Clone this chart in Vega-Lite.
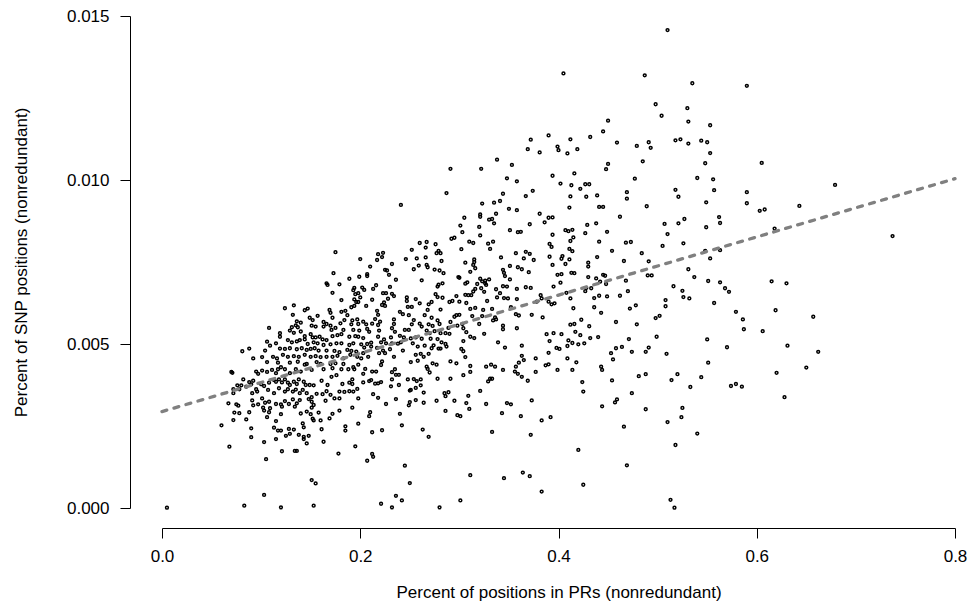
{
"$schema":"https://vega.github.io/schema/vega-lite/v6.json",
"width":793,"height":492,
"autosize":{"type":"none"},
"padding":{"left":162,"top":16,"right":17,"bottom":104},
"background":"white",
"config":{"view":{"stroke":null},"font":"Liberation Sans"},
"layer":[
{"data":{"values":[
{"pr":0.372,"snp":0.01123},{"pr":0.390,"snp":0.01136},{"pr":0.369,"snp":0.01094},{"pr":0.381,"snp":0.01084},{"pr":0.399,"snp":0.01102},{"pr":0.400,"snp":0.01091},{"pr":0.338,"snp":0.01062},{"pr":0.353,"snp":0.01046},{"pr":0.291,"snp":0.01034},{"pr":0.322,"snp":0.01034},{"pr":0.394,"snp":0.01013},{"pr":0.348,"snp":0.01005},
{"pr":0.510,"snp":0.01457},{"pr":0.405,"snp":0.01325},{"pr":0.487,"snp":0.01319},{"pr":0.535,"snp":0.01295},{"pr":0.590,"snp":0.01287},{"pr":0.498,"snp":0.01231},{"pr":0.530,"snp":0.01219},{"pr":0.504,"snp":0.01196},{"pr":0.450,"snp":0.01181},{"pr":0.531,"snp":0.01178},{"pr":0.553,"snp":0.01167},{"pr":0.445,"snp":0.01148},{"pr":0.432,"snp":0.01131},{"pr":0.412,"snp":0.01124},{"pr":0.459,"snp":0.01114},{"pr":0.479,"snp":0.01104},{"pr":0.491,"snp":0.01115},{"pr":0.493,"snp":0.01098},{"pr":0.518,"snp":0.01121},{"pr":0.523,"snp":0.01124},{"pr":0.531,"snp":0.01111},{"pr":0.544,"snp":0.0112},{"pr":0.550,"snp":0.01115},{"pr":0.553,"snp":0.01082},{"pr":0.409,"snp":0.01081},{"pr":0.419,"snp":0.01094},{"pr":0.450,"snp":0.01049},{"pr":0.448,"snp":0.01033},{"pr":0.485,"snp":0.01057},{"pr":0.548,"snp":0.01051},{"pr":0.416,"snp":0.0102},{"pr":0.477,"snp":0.01004},{"pr":0.540,"snp":0.01006},{"pr":0.556,"snp":0.01002},
{"pr":0.605,"snp":0.01052},
{"pr":0.175,"snp":0.0078},{"pr":0.200,"snp":0.00759},{"pr":0.173,"snp":0.00716},{"pr":0.189,"snp":0.00699},{"pr":0.199,"snp":0.00705},{"pr":0.166,"snp":0.00685},{"pr":0.167,"snp":0.0068},{"pr":0.179,"snp":0.00682},{"pr":0.172,"snp":0.00656},{"pr":0.194,"snp":0.00671},{"pr":0.193,"snp":0.00664},{"pr":0.195,"snp":0.00652},{"pr":0.198,"snp":0.00655},{"pr":0.181,"snp":0.00634},{"pr":0.196,"snp":0.00628},{"pr":0.194,"snp":0.00616},{"pr":0.191,"snp":0.00612},{"pr":0.198,"snp":0.00628},{"pr":0.124,"snp":0.00609},{"pr":0.133,"snp":0.00618},{"pr":0.144,"snp":0.00603},{"pr":0.147,"snp":0.00608},{"pr":0.169,"snp":0.00604},{"pr":0.170,"snp":0.00595},{"pr":0.181,"snp":0.00598},{"pr":0.185,"snp":0.00601},{"pr":0.187,"snp":0.00588},{"pr":0.132,"snp":0.00589},{"pr":0.157,"snp":0.00586},{"pr":0.172,"snp":0.0058},{"pr":0.184,"snp":0.00573},{"pr":0.197,"snp":0.00575},{"pr":0.149,"snp":0.0058},{"pr":0.152,"snp":0.00573},{"pr":0.136,"snp":0.00569},{"pr":0.140,"snp":0.00565},{"pr":0.163,"snp":0.00567},{"pr":0.166,"snp":0.00561},{"pr":0.170,"snp":0.00556},{"pr":0.180,"snp":0.00563},{"pr":0.191,"snp":0.0056},{"pr":0.198,"snp":0.00561},{"pr":0.135,"snp":0.00557},{"pr":0.137,"snp":0.00551},{"pr":0.131,"snp":0.00551},{"pr":0.151,"snp":0.00556},{"pr":0.155,"snp":0.00553},{"pr":0.163,"snp":0.00553},{"pr":0.108,"snp":0.00549},{"pr":0.129,"snp":0.00541},{"pr":0.133,"snp":0.00534},{"pr":0.140,"snp":0.00538},{"pr":0.171,"snp":0.00543},{"pr":0.175,"snp":0.00549},{"pr":0.183,"snp":0.00543},{"pr":0.193,"snp":0.00543},{"pr":0.119,"snp":0.00533},{"pr":0.119,"snp":0.00522},{"pr":0.144,"snp":0.00524},{"pr":0.150,"snp":0.0053},{"pr":0.152,"snp":0.0052},{"pr":0.155,"snp":0.0052},{"pr":0.159,"snp":0.00522},{"pr":0.162,"snp":0.00514},{"pr":0.166,"snp":0.00512},{"pr":0.172,"snp":0.00524},{"pr":0.177,"snp":0.00527},{"pr":0.181,"snp":0.0053},{"pr":0.189,"snp":0.00522},{"pr":0.195,"snp":0.00524},{"pr":0.198,"snp":0.00522},{"pr":0.106,"snp":0.00507},{"pr":0.115,"snp":0.00502},{"pr":0.127,"snp":0.00512},{"pr":0.131,"snp":0.00505},{"pr":0.136,"snp":0.00508},{"pr":0.139,"snp":0.00512},{"pr":0.144,"snp":0.00514},{"pr":0.147,"snp":0.005},{"pr":0.153,"snp":0.00505},{"pr":0.157,"snp":0.00502},{"pr":0.163,"snp":0.00497},{"pr":0.170,"snp":0.00499},{"pr":0.176,"snp":0.00502},{"pr":0.181,"snp":0.00502},{"pr":0.189,"snp":0.00497},{"pr":0.193,"snp":0.00502},{"pr":0.109,"snp":0.00495},{"pr":0.088,"snp":0.00486},{"pr":0.081,"snp":0.00478},{"pr":0.104,"snp":0.0048},{"pr":0.119,"snp":0.00486},{"pr":0.124,"snp":0.00485},{"pr":0.129,"snp":0.00487},{"pr":0.136,"snp":0.00484},{"pr":0.141,"snp":0.00487},{"pr":0.146,"snp":0.00482},{"pr":0.150,"snp":0.00485},{"pr":0.154,"snp":0.00487},{"pr":0.158,"snp":0.0048},{"pr":0.166,"snp":0.0048},{"pr":0.174,"snp":0.00479},{"pr":0.179,"snp":0.00475},{"pr":0.187,"snp":0.00482},{"pr":0.191,"snp":0.00479},{"pr":0.196,"snp":0.00477},{"pr":0.092,"snp":0.00456},{"pr":0.101,"snp":0.0046},{"pr":0.112,"snp":0.00461},{"pr":0.116,"snp":0.00456},{"pr":0.122,"snp":0.00467},{"pr":0.127,"snp":0.00461},{"pr":0.133,"snp":0.00463},{"pr":0.138,"snp":0.00461},{"pr":0.144,"snp":0.00467},{"pr":0.150,"snp":0.00461},{"pr":0.155,"snp":0.00463},{"pr":0.160,"snp":0.0046},{"pr":0.166,"snp":0.00461},{"pr":0.172,"snp":0.00461},{"pr":0.177,"snp":0.00464},{"pr":0.183,"snp":0.00456},{"pr":0.190,"snp":0.00467},{"pr":0.197,"snp":0.00461},
{"pr":0.358,"snp":0.00996},{"pr":0.287,"snp":0.0096},{"pr":0.344,"snp":0.00958},{"pr":0.374,"snp":0.00967},{"pr":0.367,"snp":0.00951},{"pr":0.241,"snp":0.00924},{"pr":0.323,"snp":0.00928},{"pr":0.335,"snp":0.00931},{"pr":0.341,"snp":0.00936},{"pr":0.350,"snp":0.00912},{"pr":0.358,"snp":0.00908},{"pr":0.337,"snp":0.00897},{"pr":0.381,"snp":0.00897},{"pr":0.390,"snp":0.00885},{"pr":0.394,"snp":0.00886},{"pr":0.321,"snp":0.00895},{"pr":0.321,"snp":0.00888},{"pr":0.305,"snp":0.00885},{"pr":0.330,"snp":0.00879},{"pr":0.333,"snp":0.00881},{"pr":0.335,"snp":0.00868},{"pr":0.386,"snp":0.00871},{"pr":0.371,"snp":0.00865},{"pr":0.301,"snp":0.00861},{"pr":0.320,"snp":0.00857},{"pr":0.351,"snp":0.00847},{"pr":0.359,"snp":0.00841},{"pr":0.362,"snp":0.00842},{"pr":0.303,"snp":0.00841},{"pr":0.321,"snp":0.00831},{"pr":0.394,"snp":0.00833},{"pr":0.292,"snp":0.00821},{"pr":0.295,"snp":0.00824},{"pr":0.310,"snp":0.00812},{"pr":0.314,"snp":0.00808},{"pr":0.329,"snp":0.00806},{"pr":0.334,"snp":0.00812},{"pr":0.331,"snp":0.0079},{"pr":0.391,"snp":0.00805},{"pr":0.393,"snp":0.00796},{"pr":0.260,"snp":0.00808},{"pr":0.267,"snp":0.00811},{"pr":0.266,"snp":0.00794},{"pr":0.276,"snp":0.00804},{"pr":0.252,"snp":0.00787},{"pr":0.302,"snp":0.00789},{"pr":0.223,"snp":0.00778},{"pr":0.218,"snp":0.00774},{"pr":0.222,"snp":0.00765},{"pr":0.217,"snp":0.00756},{"pr":0.279,"snp":0.00784},{"pr":0.277,"snp":0.00777},{"pr":0.281,"snp":0.00777},{"pr":0.266,"snp":0.00764},{"pr":0.257,"snp":0.00761},{"pr":0.246,"snp":0.00759},{"pr":0.282,"snp":0.00753},{"pr":0.232,"snp":0.00744},{"pr":0.315,"snp":0.00758},{"pr":0.315,"snp":0.0075},{"pr":0.342,"snp":0.00764},{"pr":0.357,"snp":0.00777},{"pr":0.367,"snp":0.00781},{"pr":0.371,"snp":0.00775},{"pr":0.365,"snp":0.00761},{"pr":0.375,"snp":0.00756},{"pr":0.391,"snp":0.00766},{"pr":0.306,"snp":0.00748},{"pr":0.314,"snp":0.00741},{"pr":0.316,"snp":0.00731},{"pr":0.267,"snp":0.00741},{"pr":0.268,"snp":0.00734},{"pr":0.275,"snp":0.00727},{"pr":0.280,"snp":0.00724},{"pr":0.284,"snp":0.00716},{"pr":0.259,"snp":0.00739},{"pr":0.254,"snp":0.00728},{"pr":0.351,"snp":0.00738},{"pr":0.359,"snp":0.00734},{"pr":0.363,"snp":0.00728},{"pr":0.394,"snp":0.00741},{"pr":0.344,"snp":0.00726},{"pr":0.345,"snp":0.00717},{"pr":0.370,"snp":0.00719},{"pr":0.311,"snp":0.0072},{"pr":0.210,"snp":0.00736},{"pr":0.207,"snp":0.00713},{"pr":0.207,"snp":0.00707},{"pr":0.225,"snp":0.00726},{"pr":0.227,"snp":0.00724},{"pr":0.229,"snp":0.00711},{"pr":0.346,"snp":0.00707},{"pr":0.351,"snp":0.00697},{"pr":0.299,"snp":0.00704},{"pr":0.300,"snp":0.00702},{"pr":0.236,"snp":0.00696},{"pr":0.262,"snp":0.00694},{"pr":0.321,"snp":0.00699},{"pr":0.326,"snp":0.00693},{"pr":0.330,"snp":0.00697},{"pr":0.323,"snp":0.00691},{"pr":0.308,"snp":0.00688},{"pr":0.306,"snp":0.00684},{"pr":0.318,"snp":0.00683},{"pr":0.326,"snp":0.00685},{"pr":0.327,"snp":0.0068},{"pr":0.279,"snp":0.00681},{"pr":0.283,"snp":0.00685},{"pr":0.278,"snp":0.00675},{"pr":0.216,"snp":0.00679},{"pr":0.230,"snp":0.00674},{"pr":0.202,"snp":0.00672},{"pr":0.204,"snp":0.00665},{"pr":0.213,"snp":0.00668},{"pr":0.337,"snp":0.00667},{"pr":0.344,"snp":0.00676},{"pr":0.348,"snp":0.00675},{"pr":0.316,"snp":0.00668},{"pr":0.314,"snp":0.0066},{"pr":0.322,"snp":0.0067},{"pr":0.325,"snp":0.00659},{"pr":0.358,"snp":0.00668},{"pr":0.367,"snp":0.00673},{"pr":0.372,"snp":0.00671},{"pr":0.395,"snp":0.00675},{"pr":0.341,"snp":0.00655},{"pr":0.345,"snp":0.0064},{"pr":0.306,"snp":0.0065},{"pr":0.309,"snp":0.00649},{"pr":0.312,"snp":0.00649},{"pr":0.223,"snp":0.00655},{"pr":0.226,"snp":0.00655},{"pr":0.232,"snp":0.00653},{"pr":0.234,"snp":0.00646},{"pr":0.228,"snp":0.00638},{"pr":0.276,"snp":0.00652},{"pr":0.278,"snp":0.00643},{"pr":0.283,"snp":0.00641},{"pr":0.247,"snp":0.00642},{"pr":0.256,"snp":0.00637},{"pr":0.297,"snp":0.00646},{"pr":0.212,"snp":0.00635},{"pr":0.194,"snp":0.00636},{"pr":0.200,"snp":0.00642},{"pr":0.338,"snp":0.00642},{"pr":0.349,"snp":0.00639},{"pr":0.358,"snp":0.00637},{"pr":0.247,"snp":0.00631},{"pr":0.290,"snp":0.00628},{"pr":0.293,"snp":0.00631},{"pr":0.300,"snp":0.00629},{"pr":0.307,"snp":0.00625},{"pr":0.328,"snp":0.00631},{"pr":0.382,"snp":0.00649},{"pr":0.383,"snp":0.00639},{"pr":0.378,"snp":0.00629},{"pr":0.390,"snp":0.00629},{"pr":0.393,"snp":0.00621},{"pr":0.224,"snp":0.00627},{"pr":0.222,"snp":0.00619},{"pr":0.225,"snp":0.00616},{"pr":0.206,"snp":0.00616},{"pr":0.248,"snp":0.00613},{"pr":0.252,"snp":0.00613},{"pr":0.260,"snp":0.00624},{"pr":0.269,"snp":0.00621},{"pr":0.272,"snp":0.00628},{"pr":0.281,"snp":0.00605},{"pr":0.268,"snp":0.00604},{"pr":0.311,"snp":0.00607},{"pr":0.316,"snp":0.0061},{"pr":0.324,"snp":0.00604},{"pr":0.333,"snp":0.00607},{"pr":0.352,"snp":0.00612},{"pr":0.217,"snp":0.00601},{"pr":0.218,"snp":0.00589},{"pr":0.240,"snp":0.00598},{"pr":0.243,"snp":0.00591},{"pr":0.249,"snp":0.00588},{"pr":0.265,"snp":0.00588},{"pr":0.297,"snp":0.00588},{"pr":0.300,"snp":0.00589},{"pr":0.295,"snp":0.00583},{"pr":0.313,"snp":0.00585},{"pr":0.323,"snp":0.00585},{"pr":0.336,"snp":0.00581},{"pr":0.337,"snp":0.00575},{"pr":0.357,"snp":0.00591},{"pr":0.360,"snp":0.00587},{"pr":0.373,"snp":0.00589},{"pr":0.384,"snp":0.00581},{"pr":0.192,"snp":0.00572},{"pr":0.203,"snp":0.00568},{"pr":0.215,"snp":0.00576},{"pr":0.220,"snp":0.00568},{"pr":0.234,"snp":0.00575},{"pr":0.254,"snp":0.00573},{"pr":0.272,"snp":0.0058},{"pr":0.278,"snp":0.00572},{"pr":0.291,"snp":0.00567},{"pr":0.320,"snp":0.00561},{"pr":0.334,"snp":0.00572},{"pr":0.206,"snp":0.0056},{"pr":0.212,"snp":0.00562},{"pr":0.218,"snp":0.00558},{"pr":0.234,"snp":0.00561},{"pr":0.252,"snp":0.0056},{"pr":0.260,"snp":0.00562},{"pr":0.262,"snp":0.00553},{"pr":0.269,"snp":0.0056},{"pr":0.273,"snp":0.00555},{"pr":0.280,"snp":0.00561},{"pr":0.289,"snp":0.00549},{"pr":0.298,"snp":0.00556},{"pr":0.303,"snp":0.00561},{"pr":0.304,"snp":0.00548},{"pr":0.344,"snp":0.00556},{"pr":0.344,"snp":0.00545},{"pr":0.358,"snp":0.00548},{"pr":0.199,"snp":0.00541},{"pr":0.207,"snp":0.00546},{"pr":0.209,"snp":0.00537},{"pr":0.219,"snp":0.00541},{"pr":0.232,"snp":0.00548},{"pr":0.235,"snp":0.00537},{"pr":0.245,"snp":0.00543},{"pr":0.249,"snp":0.00543},{"pr":0.267,"snp":0.00541},{"pr":0.275,"snp":0.00539},{"pr":0.270,"snp":0.00533},{"pr":0.281,"snp":0.00533},{"pr":0.286,"snp":0.00533},{"pr":0.290,"snp":0.00531},{"pr":0.307,"snp":0.00536},{"pr":0.315,"snp":0.00518},{"pr":0.311,"snp":0.00522},{"pr":0.325,"snp":0.00531},{"pr":0.388,"snp":0.0053},{"pr":0.395,"snp":0.00533},{"pr":0.203,"snp":0.00518},{"pr":0.218,"snp":0.00522},{"pr":0.224,"snp":0.00514},{"pr":0.231,"snp":0.0052},{"pr":0.240,"snp":0.00525},{"pr":0.244,"snp":0.0052},{"pr":0.251,"snp":0.00517},{"pr":0.256,"snp":0.0052},{"pr":0.262,"snp":0.00516},{"pr":0.271,"snp":0.00516},{"pr":0.278,"snp":0.00515},{"pr":0.304,"snp":0.00509},{"pr":0.339,"snp":0.00505},{"pr":0.391,"snp":0.00509},{"pr":0.201,"snp":0.00499},{"pr":0.207,"snp":0.005},{"pr":0.211,"snp":0.00504},{"pr":0.221,"snp":0.00505},{"pr":0.226,"snp":0.00502},{"pr":0.232,"snp":0.00502},{"pr":0.238,"snp":0.00501},{"pr":0.241,"snp":0.00505},{"pr":0.253,"snp":0.00502},{"pr":0.258,"snp":0.00492},{"pr":0.265,"snp":0.00495},{"pr":0.274,"snp":0.00496},{"pr":0.282,"snp":0.00505},{"pr":0.286,"snp":0.005},{"pr":0.363,"snp":0.00495},{"pr":0.346,"snp":0.00489},{"pr":0.204,"snp":0.00489},{"pr":0.211,"snp":0.00492},{"pr":0.217,"snp":0.00488},{"pr":0.223,"snp":0.0048},{"pr":0.230,"snp":0.00484},{"pr":0.243,"snp":0.0048},{"pr":0.256,"snp":0.00467},{"pr":0.261,"snp":0.0047},{"pr":0.269,"snp":0.0047},{"pr":0.272,"snp":0.00487},{"pr":0.279,"snp":0.00486},{"pr":0.281,"snp":0.00486},{"pr":0.287,"snp":0.00492},{"pr":0.302,"snp":0.00485},{"pr":0.304,"snp":0.00478},{"pr":0.390,"snp":0.00473},{"pr":0.203,"snp":0.00472},{"pr":0.219,"snp":0.00472},{"pr":0.225,"snp":0.00472},{"pr":0.234,"snp":0.00461},{"pr":0.264,"snp":0.00461},{"pr":0.306,"snp":0.0046},{"pr":0.363,"snp":0.00464},{"pr":0.377,"snp":0.00456},{"pr":0.201,"snp":0.00456},{"pr":0.208,"snp":0.00461},
{"pr":0.402,"snp":0.00989},{"pr":0.413,"snp":0.00984},{"pr":0.427,"snp":0.00987},{"pr":0.431,"snp":0.00987},{"pr":0.422,"snp":0.00973},{"pr":0.518,"snp":0.0097},{"pr":0.557,"snp":0.00969},{"pr":0.590,"snp":0.00963},{"pr":0.412,"snp":0.0095},{"pr":0.428,"snp":0.00949},{"pr":0.439,"snp":0.00953},{"pr":0.469,"snp":0.00963},{"pr":0.469,"snp":0.00943},{"pr":0.521,"snp":0.00949},{"pr":0.549,"snp":0.00932},{"pr":0.590,"snp":0.00929},{"pr":0.411,"snp":0.00916},{"pr":0.441,"snp":0.00918},{"pr":0.445,"snp":0.00918},{"pr":0.489,"snp":0.0092},{"pr":0.603,"snp":0.00906},{"pr":0.462,"snp":0.00888},{"pr":0.562,"snp":0.00887},{"pr":0.527,"snp":0.00881},{"pr":0.507,"snp":0.00866},{"pr":0.521,"snp":0.00868},{"pr":0.563,"snp":0.00869},{"pr":0.429,"snp":0.00863},{"pr":0.438,"snp":0.00868},{"pr":0.549,"snp":0.00856},{"pr":0.407,"snp":0.00847},{"pr":0.410,"snp":0.00844},{"pr":0.414,"snp":0.00848},{"pr":0.427,"snp":0.00838},{"pr":0.449,"snp":0.00842},{"pr":0.510,"snp":0.00835},{"pr":0.415,"snp":0.00825},{"pr":0.412,"snp":0.00814},{"pr":0.441,"snp":0.00812},{"pr":0.468,"snp":0.00809},{"pr":0.473,"snp":0.00811},{"pr":0.526,"snp":0.00807},{"pr":0.505,"snp":0.00799},{"pr":0.411,"snp":0.0079},{"pr":0.414,"snp":0.00783},{"pr":0.454,"snp":0.00784},{"pr":0.484,"snp":0.00777},{"pr":0.548,"snp":0.00784},{"pr":0.563,"snp":0.00786},{"pr":0.404,"snp":0.00768},{"pr":0.403,"snp":0.0076},{"pr":0.411,"snp":0.00758},{"pr":0.439,"snp":0.00765},{"pr":0.466,"snp":0.00753},{"pr":0.491,"snp":0.00752},{"pr":0.553,"snp":0.00761},{"pr":0.407,"snp":0.00744},{"pr":0.430,"snp":0.00748},{"pr":0.430,"snp":0.00736},{"pr":0.531,"snp":0.00728},{"pr":0.399,"snp":0.00711},{"pr":0.403,"snp":0.00713},{"pr":0.413,"snp":0.00717},{"pr":0.416,"snp":0.00716},{"pr":0.445,"snp":0.00711},{"pr":0.447,"snp":0.00708},{"pr":0.490,"snp":0.00709},{"pr":0.494,"snp":0.00709},{"pr":0.430,"snp":0.00704},{"pr":0.438,"snp":0.007},{"pr":0.537,"snp":0.00704},{"pr":0.442,"snp":0.0069},{"pr":0.448,"snp":0.00683},{"pr":0.468,"snp":0.00693},{"pr":0.551,"snp":0.00692},{"pr":0.563,"snp":0.00688},{"pr":0.402,"snp":0.00687},{"pr":0.428,"snp":0.00671},{"pr":0.433,"snp":0.0067},{"pr":0.427,"snp":0.00661},{"pr":0.516,"snp":0.00676},{"pr":0.568,"snp":0.0067},{"pr":0.572,"snp":0.00659},{"pr":0.408,"snp":0.00656},{"pr":0.470,"snp":0.00661},{"pr":0.525,"snp":0.00662},{"pr":0.441,"snp":0.00647},{"pr":0.436,"snp":0.0064},{"pr":0.449,"snp":0.00645},{"pr":0.462,"snp":0.00647},{"pr":0.526,"snp":0.00643},{"pr":0.532,"snp":0.00639},{"pr":0.508,"snp":0.00634},{"pr":0.396,"snp":0.00624},{"pr":0.412,"snp":0.00639},{"pr":0.557,"snp":0.00625},{"pr":0.508,"snp":0.00615},{"pr":0.478,"snp":0.00618},{"pr":0.472,"snp":0.00608},{"pr":0.436,"snp":0.00612},{"pr":0.415,"snp":0.00609},{"pr":0.443,"snp":0.00595},{"pr":0.579,"snp":0.00598},{"pr":0.502,"snp":0.00586},{"pr":0.498,"snp":0.00579},{"pr":0.423,"snp":0.00574},{"pr":0.586,"snp":0.00575},{"pr":0.458,"snp":0.00567},{"pr":0.479,"snp":0.0056},{"pr":0.412,"snp":0.00559},{"pr":0.416,"snp":0.00561},{"pr":0.431,"snp":0.00554},{"pr":0.587,"snp":0.00545},{"pr":0.403,"snp":0.0053},{"pr":0.417,"snp":0.00537},{"pr":0.422,"snp":0.00527},{"pr":0.432,"snp":0.00518},{"pr":0.440,"snp":0.00521},{"pr":0.499,"snp":0.00522},{"pr":0.410,"snp":0.00511},{"pr":0.414,"snp":0.00503},{"pr":0.420,"snp":0.00499},{"pr":0.426,"snp":0.00502},{"pr":0.471,"snp":0.00515},{"pr":0.550,"snp":0.00514},{"pr":0.409,"snp":0.00494},{"pr":0.398,"snp":0.00488},{"pr":0.401,"snp":0.00485},{"pr":0.458,"snp":0.00487},{"pr":0.464,"snp":0.00491},{"pr":0.491,"snp":0.00489},{"pr":0.570,"snp":0.0049},{"pr":0.453,"snp":0.00472},{"pr":0.474,"snp":0.00476},{"pr":0.488,"snp":0.00476},{"pr":0.509,"snp":0.0047},{"pr":0.409,"snp":0.00456},{"pr":0.455,"snp":0.00453},
{"pr":0.679,"snp":0.00985},{"pr":0.643,"snp":0.00921},{"pr":0.608,"snp":0.0091},{"pr":0.618,"snp":0.00852},{"pr":0.737,"snp":0.00829},{"pr":0.615,"snp":0.00691},{"pr":0.630,"snp":0.00685},{"pr":0.619,"snp":0.00603},{"pr":0.657,"snp":0.00583},{"pr":0.606,"snp":0.00539},{"pr":0.631,"snp":0.00495},{"pr":0.662,"snp":0.00476},
{"pr":0.620,"snp":0.00412},{"pr":0.628,"snp":0.00338},{"pr":0.650,"snp":0.00428},
{"pr":0.070,"snp":0.00415},{"pr":0.071,"snp":0.00412},{"pr":0.082,"snp":0.00392},{"pr":0.088,"snp":0.00384},{"pr":0.092,"snp":0.00388},{"pr":0.095,"snp":0.00416},{"pr":0.097,"snp":0.00409},{"pr":0.101,"snp":0.00419},{"pr":0.106,"snp":0.00415},{"pr":0.111,"snp":0.00421},{"pr":0.115,"snp":0.00411},{"pr":0.117,"snp":0.00423},{"pr":0.120,"snp":0.00429},{"pr":0.124,"snp":0.00423},{"pr":0.129,"snp":0.00411},{"pr":0.135,"snp":0.00423},{"pr":0.140,"snp":0.00416},{"pr":0.144,"snp":0.00437},{"pr":0.146,"snp":0.00439},{"pr":0.151,"snp":0.00421},{"pr":0.160,"snp":0.00439},{"pr":0.163,"snp":0.00423},{"pr":0.170,"snp":0.00439},{"pr":0.172,"snp":0.00426},{"pr":0.181,"snp":0.00423},{"pr":0.183,"snp":0.00439},{"pr":0.188,"snp":0.00423},{"pr":0.194,"snp":0.00423},{"pr":0.198,"snp":0.00437},{"pr":0.106,"snp":0.00445},{"pr":0.117,"snp":0.00443},{"pr":0.129,"snp":0.00443},{"pr":0.137,"snp":0.00446},{"pr":0.156,"snp":0.00445},{"pr":0.175,"snp":0.00441},{"pr":0.072,"snp":0.00362},{"pr":0.072,"snp":0.0035},{"pr":0.076,"snp":0.00374},{"pr":0.078,"snp":0.00362},{"pr":0.080,"snp":0.00374},{"pr":0.085,"snp":0.0037},{"pr":0.090,"snp":0.00377},{"pr":0.091,"snp":0.0035},{"pr":0.095,"snp":0.00362},{"pr":0.096,"snp":0.00355},{"pr":0.100,"snp":0.00377},{"pr":0.103,"snp":0.00372},{"pr":0.107,"snp":0.0036},{"pr":0.108,"snp":0.00382},{"pr":0.113,"snp":0.0039},{"pr":0.115,"snp":0.00385},{"pr":0.118,"snp":0.00392},{"pr":0.121,"snp":0.00383},{"pr":0.124,"snp":0.00392},{"pr":0.127,"snp":0.00382},{"pr":0.129,"snp":0.00375},{"pr":0.133,"snp":0.00385},{"pr":0.136,"snp":0.00378},{"pr":0.138,"snp":0.00392},{"pr":0.143,"snp":0.00385},{"pr":0.145,"snp":0.00375},{"pr":0.149,"snp":0.00375},{"pr":0.153,"snp":0.00374},{"pr":0.161,"snp":0.00388},{"pr":0.167,"snp":0.00375},{"pr":0.171,"snp":0.004},{"pr":0.176,"snp":0.00405},{"pr":0.182,"snp":0.00378},{"pr":0.189,"snp":0.00382},{"pr":0.192,"snp":0.00392},{"pr":0.197,"snp":0.00363},{"pr":0.113,"snp":0.0035},{"pr":0.118,"snp":0.00365},{"pr":0.124,"snp":0.00355},{"pr":0.127,"snp":0.00362},{"pr":0.132,"snp":0.00355},{"pr":0.135,"snp":0.00361},{"pr":0.139,"snp":0.0035},{"pr":0.142,"snp":0.0036},{"pr":0.146,"snp":0.0035},{"pr":0.151,"snp":0.00338},{"pr":0.156,"snp":0.00348},{"pr":0.162,"snp":0.00347},{"pr":0.166,"snp":0.00356},{"pr":0.170,"snp":0.00345},{"pr":0.174,"snp":0.00334},{"pr":0.179,"snp":0.00355},{"pr":0.184,"snp":0.00354},{"pr":0.189,"snp":0.00356},{"pr":0.193,"snp":0.00355},{"pr":0.198,"snp":0.00334},{"pr":0.067,"snp":0.00319},{"pr":0.075,"snp":0.00316},{"pr":0.077,"snp":0.00312},{"pr":0.091,"snp":0.00328},{"pr":0.097,"snp":0.00316},{"pr":0.092,"snp":0.00313},{"pr":0.101,"snp":0.00334},{"pr":0.104,"snp":0.00321},{"pr":0.108,"snp":0.00324},{"pr":0.115,"snp":0.00317},{"pr":0.120,"snp":0.00316},{"pr":0.124,"snp":0.00326},{"pr":0.128,"snp":0.00317},{"pr":0.132,"snp":0.00331},{"pr":0.136,"snp":0.00319},{"pr":0.139,"snp":0.00329},{"pr":0.148,"snp":0.00332},{"pr":0.151,"snp":0.00324},{"pr":0.153,"snp":0.00314},{"pr":0.165,"snp":0.00327},{"pr":0.179,"snp":0.00334},{"pr":0.102,"snp":0.00306},{"pr":0.109,"snp":0.00304},{"pr":0.121,"snp":0.00309},{"pr":0.134,"snp":0.00309},{"pr":0.151,"snp":0.00306},{"pr":0.192,"snp":0.00306},{"pr":0.073,"snp":0.00291},{"pr":0.078,"snp":0.00289},{"pr":0.088,"snp":0.00292},{"pr":0.103,"snp":0.00297},{"pr":0.108,"snp":0.00292},{"pr":0.106,"snp":0.00277},{"pr":0.120,"snp":0.00286},{"pr":0.140,"snp":0.00288},{"pr":0.146,"snp":0.00294},{"pr":0.150,"snp":0.00286},{"pr":0.152,"snp":0.00272},{"pr":0.158,"snp":0.00291},{"pr":0.172,"snp":0.00287},{"pr":0.179,"snp":0.00297},{"pr":0.169,"snp":0.00273},{"pr":0.072,"snp":0.00268},{"pr":0.085,"snp":0.0027},{"pr":0.115,"snp":0.00265},{"pr":0.142,"snp":0.00258},{"pr":0.153,"snp":0.00267},{"pr":0.160,"snp":0.00267},{"pr":0.060,"snp":0.00252},{"pr":0.090,"snp":0.00243},{"pr":0.113,"snp":0.00245},{"pr":0.117,"snp":0.00236},{"pr":0.120,"snp":0.00236},{"pr":0.128,"snp":0.00241},{"pr":0.133,"snp":0.00239},{"pr":0.143,"snp":0.00246},{"pr":0.161,"snp":0.0024},{"pr":0.185,"snp":0.00249},{"pr":0.185,"snp":0.00236},{"pr":0.198,"snp":0.00257},{"pr":0.090,"snp":0.00216},{"pr":0.115,"snp":0.0021},{"pr":0.125,"snp":0.0022},{"pr":0.129,"snp":0.00226},{"pr":0.138,"snp":0.00223},{"pr":0.143,"snp":0.00217},{"pr":0.143,"snp":0.0021},{"pr":0.148,"snp":0.0022},{"pr":0.146,"snp":0.00197},{"pr":0.163,"snp":0.00202},{"pr":0.103,"snp":0.00201},{"pr":0.068,"snp":0.00187},{"pr":0.121,"snp":0.00173},{"pr":0.134,"snp":0.00174},{"pr":0.136,"snp":0.00174},{"pr":0.178,"snp":0.00166},{"pr":0.195,"snp":0.00188},{"pr":0.105,"snp":0.00149},{"pr":0.151,"snp":0.00085},{"pr":0.155,"snp":0.00075},{"pr":0.103,"snp":0.0004},{"pr":0.083,"snp":0.00007},{"pr":0.120,"snp":0.00002},{"pr":0.153,"snp":0.00007},{"pr":0.005,"snp":0.00001},
{"pr":0.193,"snp":0.00429},{"pr":0.205,"snp":0.00424},{"pr":0.203,"snp":0.00409},{"pr":0.212,"snp":0.00416},{"pr":0.216,"snp":0.00416},{"pr":0.221,"snp":0.00436},{"pr":0.222,"snp":0.00447},{"pr":0.232,"snp":0.00414},{"pr":0.235,"snp":0.00423},{"pr":0.236,"snp":0.00406},{"pr":0.239,"snp":0.00406},{"pr":0.232,"snp":0.00392},{"pr":0.251,"snp":0.00445},{"pr":0.258,"snp":0.00449},{"pr":0.267,"snp":0.00431},{"pr":0.268,"snp":0.00424},{"pr":0.270,"snp":0.00413},{"pr":0.273,"snp":0.00441},{"pr":0.277,"snp":0.00437},{"pr":0.291,"snp":0.00447},{"pr":0.297,"snp":0.00441},{"pr":0.311,"snp":0.00433},{"pr":0.311,"snp":0.00415},{"pr":0.304,"snp":0.00405},{"pr":0.327,"snp":0.00431},{"pr":0.332,"snp":0.00437},{"pr":0.336,"snp":0.00431},{"pr":0.344,"snp":0.00421},{"pr":0.356,"snp":0.00416},{"pr":0.359,"snp":0.00409},{"pr":0.357,"snp":0.00431},{"pr":0.360,"snp":0.00443},{"pr":0.365,"snp":0.00451},{"pr":0.363,"snp":0.004},{"pr":0.377,"snp":0.00415},{"pr":0.387,"snp":0.00435},{"pr":0.390,"snp":0.00438},{"pr":0.399,"snp":0.00421},{"pr":0.192,"snp":0.00378},{"pr":0.203,"snp":0.00383},{"pr":0.209,"snp":0.00387},{"pr":0.211,"snp":0.0039},{"pr":0.215,"snp":0.00379},{"pr":0.218,"snp":0.0038},{"pr":0.221,"snp":0.00384},{"pr":0.213,"snp":0.00347},{"pr":0.218,"snp":0.00336},{"pr":0.226,"snp":0.00317},{"pr":0.231,"snp":0.00371},{"pr":0.239,"snp":0.00375},{"pr":0.236,"snp":0.00332},{"pr":0.248,"snp":0.00392},{"pr":0.251,"snp":0.0036},{"pr":0.250,"snp":0.00358},{"pr":0.254,"snp":0.00393},{"pr":0.257,"snp":0.00387},{"pr":0.261,"snp":0.00392},{"pr":0.261,"snp":0.00374},{"pr":0.256,"snp":0.00366},{"pr":0.264,"snp":0.00352},{"pr":0.256,"snp":0.00329},{"pr":0.250,"snp":0.00323},{"pr":0.249,"snp":0.00313},{"pr":0.264,"snp":0.00321},{"pr":0.278,"snp":0.00394},{"pr":0.291,"snp":0.00394},{"pr":0.285,"snp":0.0035},{"pr":0.286,"snp":0.00341},{"pr":0.289,"snp":0.00353},{"pr":0.277,"snp":0.00327},{"pr":0.295,"snp":0.00327},{"pr":0.286,"snp":0.00296},{"pr":0.309,"snp":0.00342},{"pr":0.307,"snp":0.0032},{"pr":0.310,"snp":0.00302},{"pr":0.298,"snp":0.00283},{"pr":0.301,"snp":0.0028},{"pr":0.321,"snp":0.00357},{"pr":0.327,"snp":0.00317},{"pr":0.329,"snp":0.00386},{"pr":0.331,"snp":0.00394},{"pr":0.333,"snp":0.00394},{"pr":0.348,"snp":0.0032},{"pr":0.352,"snp":0.00316},{"pr":0.343,"snp":0.00289},{"pr":0.362,"snp":0.0028},{"pr":0.369,"snp":0.00388},{"pr":0.373,"snp":0.00328},{"pr":0.383,"snp":0.00267},{"pr":0.392,"snp":0.00277},{"pr":0.210,"snp":0.00292},{"pr":0.209,"snp":0.0028},{"pr":0.240,"snp":0.00287},{"pr":0.242,"snp":0.00252},{"pr":0.222,"snp":0.00237},{"pr":0.212,"snp":0.00231},{"pr":0.263,"snp":0.00239},{"pr":0.269,"snp":0.00217},{"pr":0.333,"snp":0.00232},{"pr":0.372,"snp":0.00223},{"pr":0.212,"snp":0.00165},{"pr":0.213,"snp":0.00156},{"pr":0.207,"snp":0.00144},{"pr":0.245,"snp":0.00129},{"pr":0.250,"snp":0.00076},{"pr":0.311,"snp":0.001},{"pr":0.345,"snp":0.00091},{"pr":0.364,"snp":0.00108},{"pr":0.371,"snp":0.00097},{"pr":0.383,"snp":0.0005},{"pr":0.236,"snp":0.00037},{"pr":0.242,"snp":0.00023},{"pr":0.221,"snp":0.00013},{"pr":0.232,"snp":0.00002},{"pr":0.280,"snp":0.00002},{"pr":0.301,"snp":0.00023},
{"pr":0.414,"snp":0.00421},{"pr":0.418,"snp":0.00444},{"pr":0.443,"snp":0.00431},{"pr":0.444,"snp":0.00421},{"pr":0.424,"snp":0.00384},{"pr":0.425,"snp":0.00355},{"pr":0.454,"snp":0.00389},{"pr":0.481,"snp":0.00402},{"pr":0.488,"snp":0.00408},{"pr":0.474,"snp":0.0035},{"pr":0.444,"snp":0.0031},{"pr":0.457,"snp":0.00322},{"pr":0.459,"snp":0.00331},{"pr":0.488,"snp":0.00301},{"pr":0.514,"snp":0.0039},{"pr":0.520,"snp":0.00408},{"pr":0.544,"snp":0.00399},{"pr":0.533,"snp":0.00369},{"pr":0.551,"snp":0.00443},{"pr":0.525,"snp":0.00305},{"pr":0.524,"snp":0.00277},{"pr":0.510,"snp":0.00262},{"pr":0.466,"snp":0.00248},{"pr":0.540,"snp":0.00227},{"pr":0.518,"snp":0.00192},{"pr":0.420,"snp":0.00177},{"pr":0.469,"snp":0.0013},{"pr":0.425,"snp":0.00071},{"pr":0.513,"snp":0.00025},{"pr":0.517,"snp":0.00001},{"pr":0.574,"snp":0.00372},{"pr":0.579,"snp":0.00378},{"pr":0.585,"snp":0.0037}
]},
"mark":{"type":"point","filled":false,"color":"#000000","size":8,"strokeWidth":1.5,"opacity":1,"clip":false},
"encoding":{
"x":{"field":"pr","type":"quantitative","scale":{"domain":[0,0.8],"nice":false,"zero":false},
"axis":{"title":"Percent of positions in PRs (nonredundant)","values":[0,0.2,0.4,0.6,0.8],"format":".1f","grid":false,"offset":20,"tickSize":10,"labelPadding":10,"titlePadding":20,"domainColor":"#000000","tickColor":"#000000","labelColor":"#000000","titleColor":"#000000","labelFontSize":17,"titleFontSize":17,"titleFontWeight":"normal","labelFlush":false,"labelOverlap":false,"labelFont":"Liberation Sans","titleFont":"Liberation Sans"}},
"y":{"field":"snp","type":"quantitative","scale":{"domain":[0,0.015],"nice":false,"zero":false},
"axis":{"title":"Percent of SNP positions (nonredundant)","values":[0,0.005,0.01,0.015],"format":".3f","grid":false,"offset":32,"tickSize":10,"labelPadding":11,"titlePadding":36,"domainColor":"#000000","tickColor":"#000000","labelColor":"#000000","titleColor":"#000000","labelFontSize":17,"titleFontSize":17,"titleFontWeight":"normal","labelFlush":false,"labelOverlap":false,"labelFont":"Liberation Sans","titleFont":"Liberation Sans"}}
}},
{"data":{"values":[{"pr":0,"snp":0.00294},{"pr":0.8,"snp":0.01004}]},
"mark":{"type":"line","color":"#808080","strokeWidth":3.3,"strokeDash":[5,7.5],"strokeCap":"round"},
"encoding":{"x":{"field":"pr","type":"quantitative"},"y":{"field":"snp","type":"quantitative"}}}
]
}
